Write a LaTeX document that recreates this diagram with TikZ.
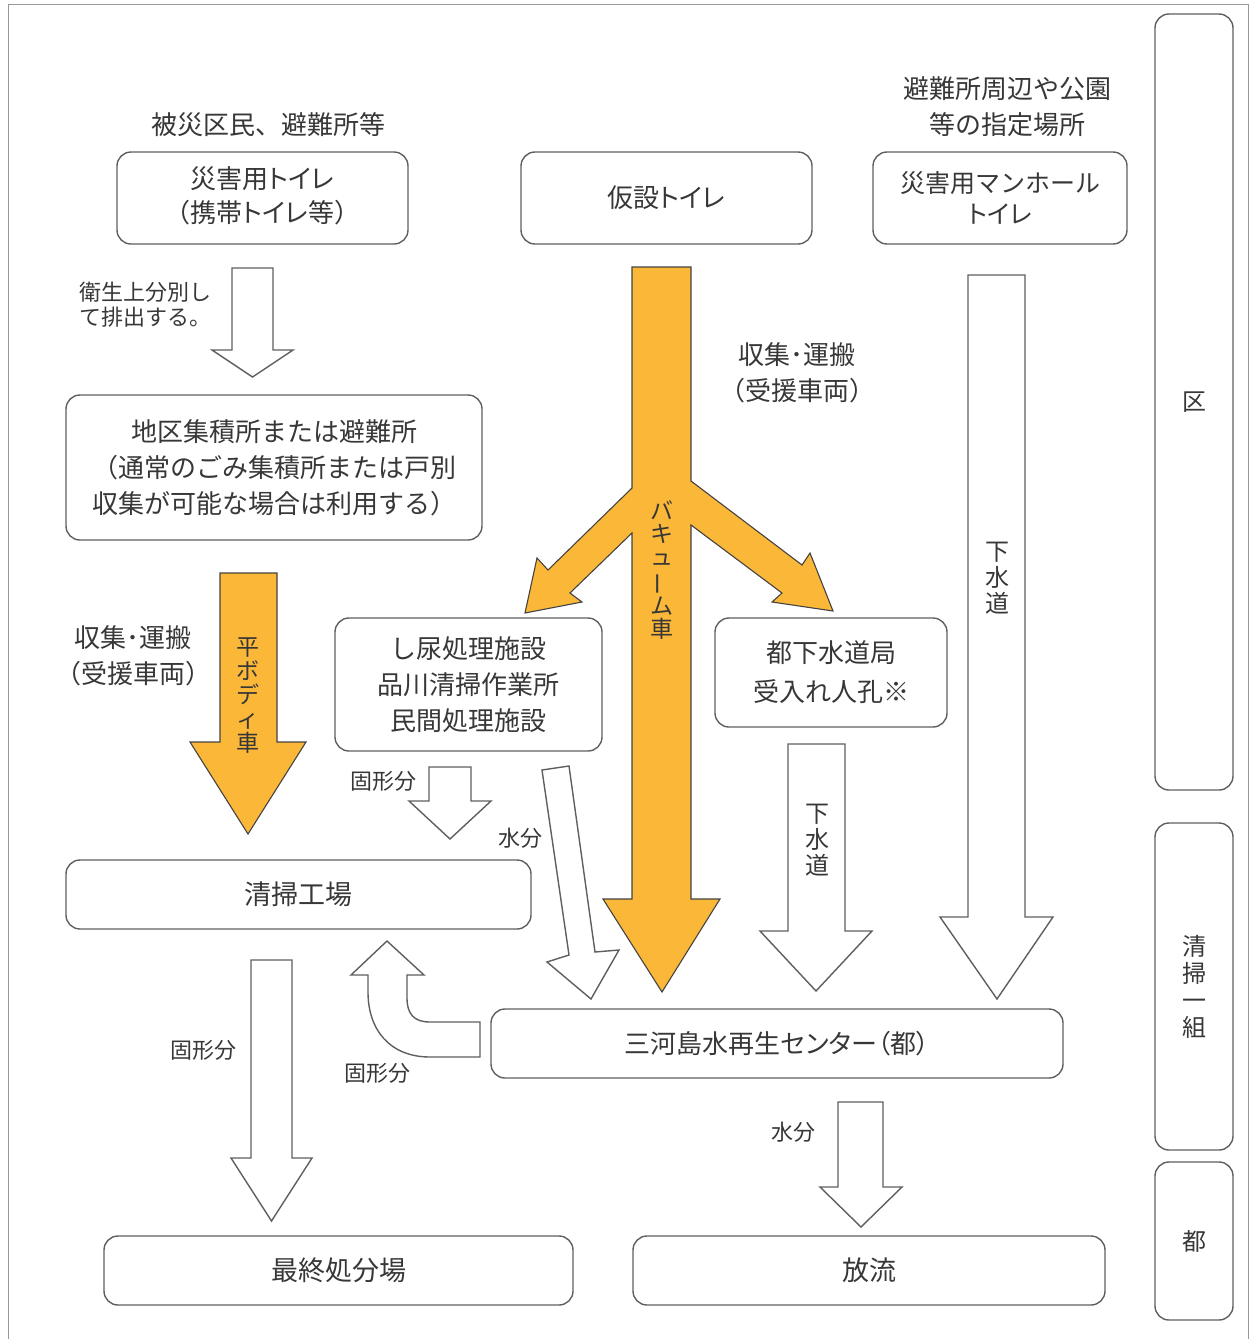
\documentclass[tikz,border=0pt]{standalone}
\usepackage{fontspec}
\setmainfont{Noto Sans CJK JP}
\newfontfamily\pfont[RawFeature=+palt]{Noto Sans CJK JP}
\newcommand\pk[1]{{\pfont #1}}
\definecolor{orng}{RGB}{251,183,56}
\definecolor{edge}{RGB}{95,95,95}
\definecolor{txt}{RGB}{55,55,55}
\begin{document}
\begin{tikzpicture}[x=1pt,y=-1pt,
  box/.style={draw=edge, line width=1.4pt, rounded corners=14pt, align=center, text=txt,
    font=\fontsize{26}{36}\selectfont, inner sep=0pt},
  lbl/.style={text=txt, font=\fontsize{26}{36}\selectfont, align=center, inner sep=0pt},
  smalllbl/.style={text=txt, font=\fontsize{22}{25}\selectfont, align=left, inner sep=0pt},
  vtext/.style={text=txt, font=\fontsize{23}{24}\selectfont, align=center, inner sep=0pt},
  warr/.style={draw=edge, line width=1.4pt, fill=white, line join=miter},
  oarr/.style={draw=edge!70!black, line width=1.1pt, fill=orng, line join=miter}]
\useasboundingbox (0,0) rectangle (1251,1339);
% outer frame
\draw[draw=gray!80, line width=1pt] (8,1339) -- (8,4) -- (1248,4) -- (1248,1339);

% boxes
\node[box, minimum width=291pt, minimum height=92pt] (toilet) at (262.5,198) {};
\node[text=txt, font=\fontsize{26}{34}\selectfont, align=center, inner sep=0pt] (toilettext) at (toilet.center) [yshift=2pt] {災害用\pk{トイレ}\\（携帯\pk{トイレ}等）};
\node[box, minimum width=291pt, minimum height=92pt] (kasetsu) at (666.5,198) {仮設\pk{トイレ}};
\node[box, minimum width=254pt, minimum height=92pt, font=\fontsize{25}{31}\selectfont] (manhole) at (1000,198) {災害用マンホール\\\pk{トイレ}};
\node[lbl] (lb1) at (268,125) {被災区民、避難所等};
\node[lbl] (lb2) at (1007,107) {避難所周辺や公園\\等の指定場所};

\node[box, minimum width=416pt, minimum height=145pt] (shuseki) at (274,467.5) {地区集積所または避難所\\（通常のごみ集積所または戸別\\収集が可能な場合は利用する）};
\node[box, minimum width=267pt, minimum height=133pt] (shinyo) at (468.5,684.5) {し尿処理施設\\品川清掃作業所\\民間処理施設};
\node[box, minimum width=232pt, minimum height=109pt, font=\fontsize{26}{39}\selectfont] (gesui) at (831,672.5) {都下水道局\\受入れ人孔※};
\node[box, minimum width=465pt, minimum height=69pt, font=\fontsize{27}{36}\selectfont] (seiso) at (298.5,894.5) {清掃工場};
\node[box, minimum width=572pt, minimum height=69pt] (mikawa) at (777,1043.5) {\pk{三河島水再生センター（都）}};
\node[box, minimum width=469pt, minimum height=69pt, font=\fontsize{27}{36}\selectfont] (saishu) at (338.5,1270.5) {最終処分場};
\node[box, minimum width=472pt, minimum height=69pt, font=\fontsize{27}{36}\selectfont] (horyu) at (869,1270.5) {放流};

\node[box, minimum width=78pt, minimum height=776pt, font=\fontsize{24}{27}\selectfont] (ku) at (1194,402) {区};
\node[box, minimum width=78pt, minimum height=327pt, font=\fontsize{24}{27}\selectfont] (ichikumi) at (1194,986.5) {清\\掃\\一\\組};
\node[box, minimum width=78pt, minimum height=158pt, font=\fontsize{24}{27}\selectfont] (to) at (1194,1241) {都};

% A: toilet -> shuseki
\draw[warr] (232,268) -- (273,268) -- (273,350) -- (293,350) -- (252.5,377) -- (212,350) -- (232,350) -- cycle;
\node[smalllbl, anchor=west] (la) at (79,305) {衛生上分別し\\て排出する。};

% B: flat body truck
\draw[oarr] (220,573) -- (277,573) -- (277,742) -- (306,742) -- (248,834) -- (190,742) -- (220,742) -- cycle;
\node[vtext] (vb) at (248,696) {平\\ボ\\デ\\ィ\\車};
\node[lbl] (lbB) at (133,655.5) {収集･運搬\\（受援車両）};

% C: vacuum truck with branches
\draw[oarr] (632,267) -- (691,267) -- (691,481) -- (802,565) -- (810,553) -- (833,611) -- (772,602) -- (782,593)
  -- (691,525) -- (691,899) -- (720,899) -- (662,992) -- (603,899) -- (632,899) -- (632,533)
  -- (570,593) -- (582,602) -- (525,613) -- (537,558) -- (548,570) -- (632,488) -- cycle;
\node[vtext, font=\fontsize{23}{23}\selectfont] (vc) at (662,570) {バ\\キ\\ュ\\\rotatebox[origin=c]{90}{ー}\\ム\\車};
\node[lbl] (lbC) at (797,372.5) {収集･運搬\\（受援車両）};

% D: manhole sewer
\draw[warr] (968,275) -- (1025,275) -- (1025,917) -- (1053,917) -- (997,999) -- (940,917) -- (968,917) -- cycle;
\node[vtext, font=\fontsize{24}{26}\selectfont] (vd) at (997,578) {下\\水\\道};

% E: bureau sewer
\draw[warr] (788,744) -- (845,744) -- (845,931) -- (872,931) -- (816,991) -- (760,931) -- (788,931) -- cycle;
\node[vtext, font=\fontsize{24}{26}\selectfont] (ve) at (817,840) {下\\水\\道};

% F: solid to plant
\draw[warr] (429,767) -- (471,767) -- (471,801) -- (491,801) -- (450,839) -- (409,801) -- (429,801) -- cycle;
\node[smalllbl] (lf) at (383,781) {固形分};

% G: water slanted
\draw[warr] (542,770) -- (569,766) -- (595,952) -- (619,950) -- (591,999) -- (547,962) -- (569,955) -- cycle;
\node[smalllbl] (lg) at (520,838) {水分};

% H: curved solid back to plant
\draw[warr] (480,1057) -- (430,1057) .. controls (390,1057) and (368,1030) .. (368,992) -- (368,975) -- (351,975)
  -- (387,941) -- (424,975) -- (407,975) -- (407,998) .. controls (407,1014) and (414,1022) .. (430,1022) -- (480,1022) -- cycle;
\node[smalllbl] (lh) at (377,1073) {固形分};

% I: plant -> landfill
\draw[warr] (251,960) -- (292,960) -- (292,1158) -- (312,1158) -- (271.5,1221) -- (231,1158) -- (251,1158) -- cycle;
\node[smalllbl] (li) at (203,1050) {固形分};

% J: center -> discharge
\draw[warr] (838,1102) -- (883,1102) -- (883,1187) -- (902,1187) -- (861,1227) -- (820,1187) -- (838,1187) -- cycle;
\node[smalllbl] (lj) at (793,1132) {水分};
\end{tikzpicture}
\end{document}
